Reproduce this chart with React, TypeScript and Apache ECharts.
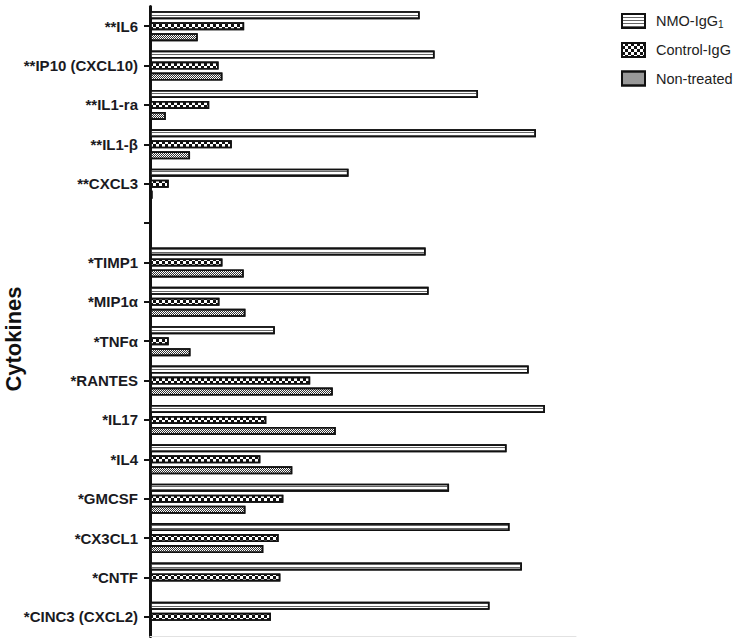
import React, { useEffect, useRef } from 'react';
import * as echarts from 'echarts';

const categories = [
  '**IL6', '**IP10 (CXCL10)', '**IL1-ra', '**IL1-β', '**CXCL3', '',
  '*TIMP1', '*MIP1α', '*TNFα', '*RANTES', '*IL17', '*IL4', '*GMCSF', '*CX3CL1', '*CNTF', '*CINC3 (CXCL2)',
];
const nmoIgG1 = [63.3, 66.8, 77.0, 90.6, 46.6, null, 64.7, 65.4, 29.3, 88.9, 92.7, 83.7, 70.2, 84.4, 87.3, 79.7];
const controlIgG = [22.1, 16.1, 13.9, 19.2, 4.4, null, 17.0, 16.3, 4.4, 37.6, 27.3, 25.9, 31.3, 30.2, 30.6, 28.4];
const nonTreated = [11.2, 17.0, 3.7, 9.4, 0.6, null, 22.0, 22.4, 9.5, 42.9, 43.6, 33.4, 22.4, 26.6, 0, 0.4];
const seriesNames = ['NMO-IgG1', 'Control-IgG', 'Non-treated'];
const axisTitle = 'Cytokines';

const FONT = "Arial, 'Liberation Sans', sans-serif";

export default function App() {
  const ref = useRef<HTMLDivElement>(null);
  useEffect(() => {
    document.body.style.margin = '0';
    const chart = echarts.init(ref.current!, null, { renderer: 'svg' });
    const border = { borderColor: '#111', borderWidth: 1.6 };
    const styles = [
      {
        color: '#ffffff', ...border,
        decal: { symbol: 'rect', symbolSize: 1, color: '#666', dashArrayX: [1, 0], dashArrayY: [1, 2], rotation: 0 },
      },
      {
        color: '#ffffff', ...border,
        decal: { symbol: 'rect', symbolSize: 1, color: '#111', dashArrayX: [[3, 3], [0, 3, 3, 0]], dashArrayY: [3, 0], rotation: 0 },
      },
      {
        color: '#ffffff', ...border,
        decal: { symbol: 'rect', symbolSize: 1, color: '#333', dashArrayX: [[1, 1], [0, 1, 1, 0]], dashArrayY: [1, 0], rotation: 0 },
      },
    ];
    const values = [nmoIgG1, controlIgG, nonTreated];
    chart.setOption({
      animation: false,
      grid: { left: 150, right: 164, top: 6.5, bottom: 5.5, containLabel: false },
      legend: {
        orient: 'vertical', left: 621, top: 13, padding: 0, itemWidth: 23, itemHeight: 14, itemGap: 12.5,
        icon: 'rect',
        data: seriesNames,
        formatter: (n: string) => (n === 'NMO-IgG1' ? '{a|NMO-IgG}{s|1}' : '{a|' + n + '}'),
        textStyle: {
          fontFamily: FONT, fontSize: 14.5, color: '#222', padding: [0, 0, 0, 6],
          rich: {
            a: { fontFamily: FONT, fontSize: 14.5, color: '#222' },
            s: { fontFamily: FONT, fontSize: 10, color: '#222', padding: [7, 0, 0, 0] },
          },
        },
      },
      xAxis: {
        type: 'value', min: 0, max: 100,
        axisLine: { show: true, lineStyle: { color: '#e2e2e2', width: 1 } },
        axisTick: { show: false }, axisLabel: { show: false }, splitLine: { show: false },
      },
      yAxis: {
        type: 'category', inverse: true, data: categories,
        axisLine: { show: true, lineStyle: { color: '#111', width: 3 } },
        axisTick: { show: true, alignWithLabel: true, length: 6, lineStyle: { color: '#111', width: 2 } },
        axisLabel: { margin: 12, fontFamily: FONT, fontSize: 15, fontWeight: 'bold', color: '#1a1a22', interval: 0 },
      },
      graphic: [
        {
          type: 'text', x: 13, y: 339, rotation: Math.PI / 2,
          style: { text: axisTitle, fontFamily: FONT, fontSize: 22, fontWeight: 'bold', fill: '#111', align: 'center', verticalAlign: 'middle' },
        },
      ],
      series: seriesNames.map((name, i) => ({
        name, type: 'bar', data: values[i], barWidth: 8, barGap: '37.5%',
        itemStyle: styles[i],
      })),
    });
    return () => chart.dispose();
  }, []);
  return <div ref={ref} style={{ width: 740, height: 642 }} />;
}
